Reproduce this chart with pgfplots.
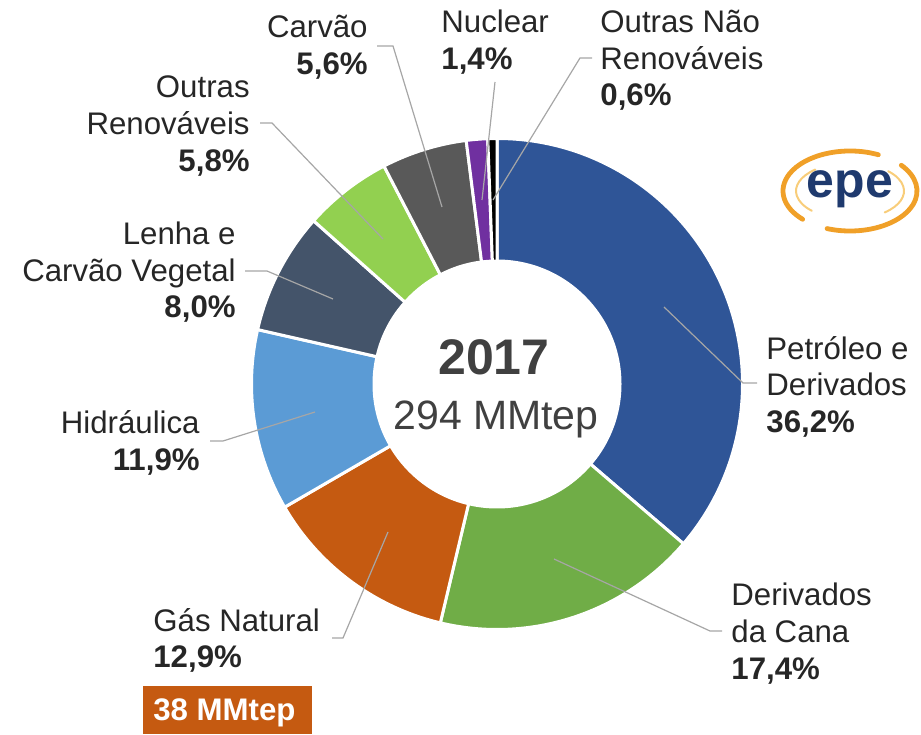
\documentclass[border=0pt]{standalone}
\usepackage{pgfplots}
\pgfplotsset{compat=1.18}
\usepackage{pgfplotstable}
\usepackage{fontspec}
\setmainfont{Liberation Sans}
\definecolor{cPet}{HTML}{2F5597}
\definecolor{cCana}{HTML}{70AD47}
\definecolor{cGas}{HTML}{C55A11}
\definecolor{cHid}{HTML}{5B9BD5}
\definecolor{cLen}{HTML}{44546A}
\definecolor{cORen}{HTML}{92D050}
\definecolor{cCarv}{HTML}{595959}
\definecolor{cNuc}{HTML}{7030A0}
\definecolor{cONR}{HTML}{000000}
\definecolor{txt}{HTML}{262626}
\definecolor{ctr}{HTML}{404040}
\definecolor{lead}{HTML}{A6A6A6}
\definecolor{epeblue}{HTML}{1F3A6E}
\definecolor{epeor}{HTML}{F0A028}
\definecolor{epeor2}{HTML}{F8CD7A}

\pgfplotstableread{
name val col
Petroleo 36.2 cPet
Cana 17.4 cCana
Gas 12.9 cGas
Hidraulica 11.9 cHid
Lenha 8.0 cLen
OutrasRen 5.8 cORen
Carvao 5.6 cCarv
Nuclear 1.4 cNuc
OutrasNaoRen 0.6 cONR
}\datatable

\begin{document}
\begin{tikzpicture}[
  lbl/.style={font=\fontsize{15.6}{18}\selectfont, text=txt, inner sep=0pt},
  pct/.style={font=\fontsize{15.6}{18}\selectfont\bfseries, text=txt, inner sep=0pt},
  ld/.style={draw=lead, line width=0.6pt}]
\path[use as bounding box] (0,0) rectangle (460.5pt,367pt);
\begin{axis}[anchor=south west, at={(0,0)}, width=460.5pt, height=367pt,
  scale only axis, xmin=0, xmax=921, ymin=0, ymax=734, hide axis, clip=false]
\pgfplotsextra{%
  \pgfplotstablegetrowsof{\datatable}%
  \pgfmathtruncatemacro{\lastrow}{\pgfplotsretval-1}%
  \gdef\tot{0}%
  \foreach \i in {0,...,\lastrow}{%
    \pgfplotstablegetelem{\i}{val}\of\datatable
    \pgfmathsetmacro{\tmpt}{\tot+\pgfplotsretval}\xdef\tot{\tmpt}}%
  \gdef\cum{0}%
  \foreach \i in {0,...,\lastrow}{%
    \pgfplotstablegetelem{\i}{val}\of\datatable \let\vv\pgfplotsretval
    \pgfplotstablegetelem{\i}{col}\of\datatable \let\cc\pgfplotsretval
    \pgfmathsetmacro{\sa}{90-\cum/\tot*360}%
    \pgfmathsetmacro{\sb}{90-(\cum+\vv)/\tot*360}%
    \filldraw[fill=\cc, draw=white, line width=1.5pt] (axis cs:497,350) -- ++(\sa:122.75pt)
      arc[start angle=\sa, end angle=\sb, radius=122.75pt] -- cycle;
    \pgfmathsetmacro{\nn}{\cum+\vv}\xdef\cum{\nn}}%
  \fill[white] (axis cs:497,350) circle[radius=62.25pt];
}
% leader lines
\draw[ld] (axis cs:664,427) -- (axis cs:743,351) -- (axis cs:757,351);
\draw[ld] (axis cs:554,175) -- (axis cs:710,103) -- (axis cs:722,103);
\draw[ld] (axis cs:315,322) -- (axis cs:223,293) -- (axis cs:210,293);
\draw[ld] (axis cs:388,202) -- (axis cs:343,96) -- (axis cs:332,96);
\draw[ld] (axis cs:383,495) -- (axis cs:272,611) -- (axis cs:260,611);
\draw[ld] (axis cs:333,435) -- (axis cs:267,463) -- (axis cs:245,463);
\draw[ld] (axis cs:442,527) -- (axis cs:393,688) -- (axis cs:377,688);
\draw[ld] (axis cs:482,534) -- (axis cs:495,652);
\draw[ld] (axis cs:493,534) -- (axis cs:580,676) -- (axis cs:592,676);
% labels right side
\node[lbl, anchor=base west] at (axis cs:766,374) {Petróleo e};
\node[lbl, anchor=base west] at (axis cs:766,338) {Derivados};
\node[pct, anchor=base west] at (axis cs:766,301) {36,2\%};
\node[lbl, anchor=base west] at (axis cs:731,128) {Derivados};
\node[lbl, anchor=base west] at (axis cs:731,91) {da Cana};
\node[pct, anchor=base west] at (axis cs:731,55) {17,4\%};
\node[lbl, anchor=base west] at (axis cs:153,103) {Gás Natural};
\node[pct, anchor=base west] at (axis cs:153,67) {12,9\%};
% labels left side
\node[lbl, anchor=base east] at (axis cs:200,300) {Hidráulica};
\node[pct, anchor=base east] at (axis cs:200,263) {11,9\%};
\node[lbl, anchor=base east] at (axis cs:236,489) {Lenha e};
\node[lbl, anchor=base east] at (axis cs:236,452) {Carvão Vegetal};
\node[pct, anchor=base east] at (axis cs:236,416) {8,0\%};
\node[lbl, anchor=base east] at (axis cs:250,636) {Outras};
\node[lbl, anchor=base east] at (axis cs:250,599) {Renováveis};
\node[pct, anchor=base east] at (axis cs:250,562) {5,8\%};
\node[lbl, anchor=base east] at (axis cs:368,696) {Carvão};
\node[pct, anchor=base east] at (axis cs:368,659) {5,6\%};
\node[lbl, anchor=base west] at (axis cs:441,701) {Nuclear};
\node[pct, anchor=base west] at (axis cs:441,664) {1,4\%};
\node[lbl, anchor=base west] at (axis cs:600,701) {Outras Não};
\node[lbl, anchor=base west] at (axis cs:600,664.5) {Renováveis};
\node[pct, anchor=base west] at (axis cs:600,628) {0,6\%};
% centre
\node[inner sep=0pt, anchor=base, text=ctr, font=\fontsize{25}{28}\selectfont\bfseries] at (axis cs:494,359) {2017};
\node[inner sep=0pt, anchor=base, text=ctr, font=\fontsize{20.5}{24}\selectfont] at (axis cs:496,304) {294 MMtep};
% box
\fill[cGas] (axis cs:143,0) rectangle (axis cs:312,48);
\node[inner sep=0pt, anchor=base west, text=white, font=\fontsize{15.6}{18}\selectfont\bfseries] at (axis cs:153,14) {38 MMtep};
% logo
\draw[epeor, line width=2.4pt, line cap=round] (axis cs:850,543) ++(65:33.5pt and 20pt) arc[start angle=65, end angle=225, x radius=33.5pt, y radius=20pt];
\draw[epeor2, line width=1pt, line cap=round] (axis cs:850,543) ++(130:27pt and 14pt) arc[start angle=130, end angle=225, x radius=27pt, y radius=14pt];
\draw[epeor, line width=2.4pt, line cap=round] (axis cs:850,543) ++(250:33.5pt and 20pt) arc[start angle=250, end angle=400, x radius=33.5pt, y radius=20pt];
\draw[epeor2, line width=1pt, line cap=round] (axis cs:850,543) ++(-50:27pt and 14pt) arc[start angle=-50, end angle=45, x radius=27pt, y radius=14pt];
\node[inner sep=0pt, anchor=base, text=epeblue, font=\fontsize{25}{28}\selectfont\bfseries] at (axis cs:850,536) {epe};
\end{axis}
\end{tikzpicture}
\end{document}
